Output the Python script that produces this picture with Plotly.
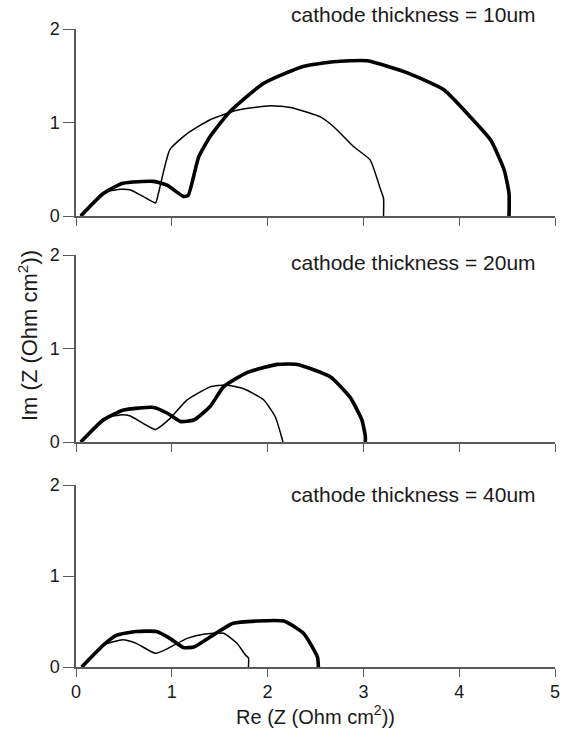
import plotly.graph_objects as go
from plotly.subplots import make_subplots

# Nyquist data (Re, Im) in Ohm cm^2 for three cathode thicknesses
labels = ["cathode thickness = 10um", "cathode thickness = 20um", "cathode thickness = 40um"]

re_thin_10 = [0.05, 0.285, 0.46, 0.56, 0.70, 0.83, 0.86, 0.98, 1.16, 1.40, 1.68, 2.03, 2.24, 2.55, 2.69, 2.90, 3.07, 3.18, 3.21, 3.21]
im_thin_10 = [0.0, 0.25, 0.285, 0.28, 0.21, 0.14, 0.24, 0.71, 0.88, 1.03, 1.13, 1.18, 1.16, 1.06, 0.955, 0.74, 0.60, 0.28, 0.19, 0.0]
re_thick_10 = [0.05, 0.285, 0.49, 0.81, 0.95, 1.12, 1.17, 1.28, 1.40, 1.61, 1.96, 2.37, 2.69, 3.04, 3.46, 3.84, 4.08, 4.33, 4.47, 4.52, 4.52]
im_thick_10 = [0.0, 0.24, 0.35, 0.37, 0.33, 0.21, 0.22, 0.63, 0.85, 1.12, 1.42, 1.60, 1.65, 1.66, 1.53, 1.35, 1.10, 0.81, 0.49, 0.24, 0.0]

re_thin_20 = [0.05, 0.285, 0.46, 0.56, 0.70, 0.83, 0.98, 1.16, 1.40, 1.57, 1.75, 1.96, 2.08, 2.15, 2.16]
im_thin_20 = [0.0, 0.25, 0.29, 0.28, 0.20, 0.135, 0.25, 0.45, 0.59, 0.61, 0.57, 0.45, 0.27, 0.04, 0.0]
re_thick_20 = [0.05, 0.285, 0.49, 0.81, 0.95, 1.09, 1.23, 1.40, 1.54, 1.78, 2.10, 2.31, 2.65, 2.86, 2.985, 3.02, 3.02]
im_thick_20 = [0.0, 0.235, 0.34, 0.37, 0.31, 0.22, 0.235, 0.38, 0.59, 0.74, 0.83, 0.83, 0.70, 0.48, 0.235, 0.06, 0.0]

re_thin_40 = [0.06, 0.285, 0.49, 0.63, 0.83, 0.98, 1.16, 1.33, 1.54, 1.68, 1.77, 1.80, 1.80]
im_thin_40 = [0.0, 0.24, 0.30, 0.26, 0.15, 0.215, 0.315, 0.36, 0.37, 0.26, 0.13, 0.10, 0.0]
re_thick_40 = [0.06, 0.285, 0.425, 0.63, 0.84, 0.98, 1.12, 1.23, 1.40, 1.64, 1.89, 2.17, 2.375, 2.52, 2.53]
im_thick_40 = [0.0, 0.24, 0.35, 0.39, 0.39, 0.315, 0.215, 0.22, 0.33, 0.48, 0.505, 0.505, 0.37, 0.11, 0.0]

x_ticks = [0, 1, 2, 3, 4, 5]
y_ticks = [0, 1, 2]

panels = [
    (re_thin_10, im_thin_10, re_thick_10, im_thick_10),
    (re_thin_20, im_thin_20, re_thick_20, im_thick_20),
    (re_thin_40, im_thin_40, re_thick_40, im_thick_40),
]

W, H = 562, 731
M_L, M_R, M_T, M_B = 76, 7, 29, 64
plot_h = H - M_T - M_B
plot_w = W - M_L - M_R


def py(pix):
    """Convert a page y pixel to paper fraction."""
    return (H - M_B - pix) / plot_h


def px(pix):
    return (pix - M_L) / plot_w


# panel extents on the page (top, bottom) in pixels
extents = [(29, 216), (255, 442), (485, 667)]
title_y = [14, 262, 495]

fig = make_subplots(rows=3, cols=1)

FONT = "Liberation Sans, Arial, Helvetica, sans-serif"
AXIS_COLOR = "#5a5a5a"
TEXT_COLOR = "#1a1a1a"

for i, (rt, it, rk, ik) in enumerate(panels):
    r = i + 1
    fig.add_trace(go.Scatter(x=rt, y=it, mode="lines",
                             line=dict(color="black", width=1.5,
                                       shape="spline", smoothing=0.5),
                             showlegend=False), row=r, col=1)
    fig.add_trace(go.Scatter(x=rk, y=ik, mode="lines",
                             line=dict(color="black", width=3.6,
                                       shape="spline", smoothing=0.5),
                             showlegend=False), row=r, col=1)
    top, bot = extents[i]
    fig.update_yaxes(domain=[py(bot), py(top)], range=[0, 2],
                     tickvals=y_ticks, ticks="outside", ticklen=11,
                     tickwidth=1.3, tickcolor=AXIS_COLOR,
                     showline=True, linecolor=AXIS_COLOR, linewidth=1.5,
                     showgrid=False, zeroline=False, automargin=False,
                     tickfont=dict(family=FONT, size=18, color=TEXT_COLOR),
                     row=r, col=1)
    fig.update_xaxes(range=[0, 5], tickvals=x_ticks,
                     ticks="outside", ticklen=8, tickwidth=1.3,
                     tickcolor=AXIS_COLOR, showline=True,
                     linecolor=AXIS_COLOR, linewidth=1.5,
                     showgrid=False, zeroline=False, automargin=False,
                     showticklabels=(r == 3),
                     tickfont=dict(family=FONT, size=18, color=TEXT_COLOR),
                     row=r, col=1)
    fig.add_annotation(text=labels[i], xref="paper", yref="paper",
                       x=px(538), y=py(title_y[i]),
                       xanchor="right", yanchor="middle", showarrow=False,
                       font=dict(family=FONT, size=21, color=TEXT_COLOR))

fig.update_xaxes(title=dict(text="Re (Z (Ohm cm<sup>2</sup>))",
                            font=dict(family=FONT, size=20, color=TEXT_COLOR),
                            standoff=4), row=3, col=1)

fig.add_annotation(text="Im (Z (Ohm cm<sup>2</sup>))", xref="paper", yref="paper",
                   x=px(28), y=py(336), xanchor="center", yanchor="middle",
                   textangle=-90, showarrow=False,
                   font=dict(family=FONT, size=22, color=TEXT_COLOR))

fig.update_layout(width=W, height=H,
                  margin=dict(l=M_L, r=M_R, t=M_T, b=M_B, autoexpand=False),
                  plot_bgcolor="white", paper_bgcolor="white",
                  font=dict(family=FONT))

fig.write_html("out.html")
